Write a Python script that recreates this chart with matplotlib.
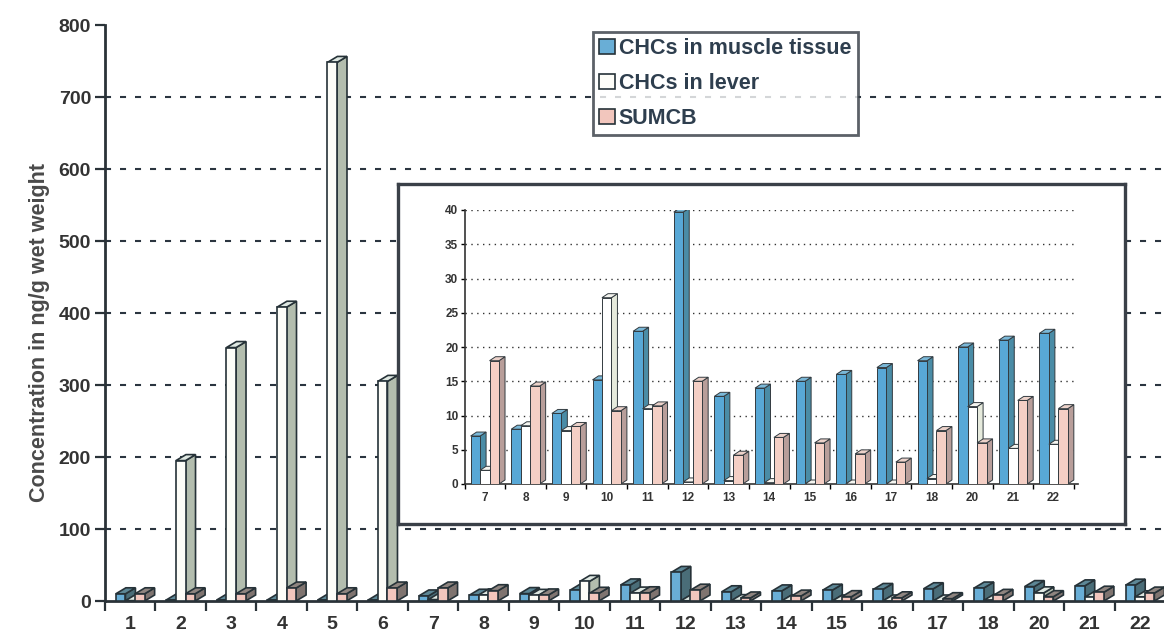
import matplotlib
matplotlib.use("Agg")
import matplotlib.pyplot as plt
from matplotlib.patches import Polygon, Patch
from matplotlib.ticker import FixedLocator
import numpy as np

plt.rcParams["font.family"] = ["Liberation Sans", "DejaVu Sans"]
plt.rcParams["font.weight"] = "bold"

# Sampling stations
categories = ["1", "2", "3", "4", "5", "6", "7", "8", "9", "10", "11", "12",
              "13", "14", "15", "16", "17", "18", "20", "21", "22"]
# Concentrations in ng/g wet weight
muscle = [10, 1.5, 1.5, 1.5, 1.5, 1.5, 7, 8, 10.3, 15.2, 22.3, 39.7,
          12.8, 14, 15, 16, 17, 18, 20, 21, 22]
lever = [0.5, 195, 352, 408, 748, 305, 2, 8.5, 7.8, 27.2, 11, 0.3,
         0.5, 0.2, 0, 0, 0, 0.8, 11.3, 5.2, 5.8]
sumcb = [10, 10, 10, 18, 10, 18, 18, 14.3, 8.4, 10.7, 11.4, 15,
         4.2, 6.8, 6, 4.4, 3.2, 7.8, 6, 12.2, 11]
series_names = ["CHCs in muscle tissue", "CHCs in lever", "SUMCB"]

main_yticks = [0, 100, 200, 300, 400, 500, 600, 700, 800]
inset_yticks = [0, 5, 10, 15, 20, 25, 30, 35, 40]
inset_first = 6  # inset shows stations 7 .. 22

W, H = 1164, 634
fig = plt.figure(figsize=(W / 100, H / 100), dpi=100)
fig.patch.set_facecolor("white")


def fig_rect(left, top, right, bottom):
    return [left / W, 1 - bottom / H, (right - left) / W, (bottom - top) / H]


def depth(ax, dx_px, dy_px):
    x0, x1 = ax.get_xlim()
    y0, y1 = ax.get_ylim()
    bb = ax.bbox
    return dx_px * (x1 - x0) / bb.width, dy_px * (y1 - y0) / bb.height


def bars3d(ax, x, heights, width, d, face, side, top, ec, lw, z):
    ddx, ddy = d
    for xi, h in zip(x, heights):
        xl, xr = xi - width / 2, xi + width / 2
        ax.add_patch(Polygon([(xr, 0), (xr + ddx, ddy), (xr + ddx, h + ddy), (xr, h)],
                             closed=True, facecolor=side, edgecolor=ec, lw=lw, zorder=z))
        ax.add_patch(Polygon([(xl, h), (xl + ddx, h + ddy), (xr + ddx, h + ddy), (xr, h)],
                             closed=True, facecolor=top, edgecolor=ec, lw=lw, zorder=z))
    ax.bar(x, heights, width=width, color=face, edgecolor=ec, linewidth=lw,
           zorder=z + 1)


edge = "#263238"

# ---------------- main chart ----------------
ax = fig.add_axes(fig_rect(105, 25, W, 601))
ax.set_zorder(0)
n = len(categories)
xs = np.arange(n)
ax.set_xlim(-0.5, (W - 130) / 50.5)
ax.set_ylim(0, 800)

main_colors = [
    ("#69aed6", "#4a6d78", "#5d8796"),
    ("#fdfdf8", "#b3bdae", "#dfe8e2"),
    ("#f2c6bd", "#7f7470", "#8f8580"),
]
bw = 0.19
dmain = depth(ax, 10, 6)
for k, vals in enumerate([muscle, lever, sumcb]):
    f, s, t = main_colors[k]
    bars3d(ax, xs + (k - 1) * bw, vals, bw, dmain, f, s, t, edge, 1.2, 3 + 2 * k)

for yv in main_yticks[1:-1]:
    ax.axhline(yv, color="#2b3540", lw=1.5, dashes=(2.9, 4.3), zorder=1)

for sp in ["top", "right"]:
    ax.spines[sp].set_visible(False)
for sp in ["left", "bottom"]:
    ax.spines[sp].set_linewidth(2.0)
    ax.spines[sp].set_color("#2a3238")

ax.set_yticks(main_yticks)
ax.set_yticklabels([str(v) for v in main_yticks])
ax.tick_params(axis="y", length=7, width=1.6, color="#2a3238", pad=3,
               labelsize=14, labelcolor="#333333")
ax.set_xticks(xs)
ax.set_xticklabels(categories)
ax.xaxis.set_minor_locator(FixedLocator(np.arange(-0.5, n, 1.0)))
ax.tick_params(axis="x", which="major", length=0, pad=11, labelsize=14,
               labelcolor="#333333")
ax.tick_params(axis="x", which="minor", length=7, width=1.6, color="#2a3238")
for lab in ax.get_xticklabels() + ax.get_yticklabels():
    lab.set_fontweight("bold")

fig.text(40 / W, 1 - 332 / H, "Concentration in ng/g wet weight", rotation=90,
         ha="center", va="center", fontsize=15.5, fontweight="bold",
         color="#4a4a4a")

handles = [Patch(facecolor=main_colors[k][0], edgecolor=edge, lw=1.2)
           for k in range(3)]
leg = ax.legend(handles, series_names, loc="upper left",
                bbox_to_anchor=(593 / W, 1 - 32 / H),
                bbox_transform=fig.transFigure, frameon=True, fancybox=False,
                handlelength=0.7, handleheight=0.7, handletextpad=0.2,
                labelspacing=0.64, borderpad=0.3, borderaxespad=0,
                prop={"size": 15.5, "weight": "bold"})
leg.get_frame().set_edgecolor("#333a42")
leg.get_frame().set_linewidth(2.0)
for t in leg.get_texts():
    t.set_color("#2e3e4e")

# ---------------- inset frame ----------------
box = fig.add_axes(fig_rect(398, 184, 1125, 524))
box.set_zorder(1)
box.set_facecolor("white")
box.set_xticks([])
box.set_yticks([])
for sp in box.spines.values():
    sp.set_linewidth(2.4)
    sp.set_color("#3a4048")

# ---------------- inset chart ----------------
ins = fig.add_axes(fig_rect(464.5, 210, 1078, 484))
ins.set_zorder(2)
ins.patch.set_alpha(0)
m = n - inset_first
xi = np.arange(m)
ins.set_xlim(-0.5, 14.6)
ins.set_ylim(0, 40)

inset_colors = [
    ("#58a8d6", "#4a8ca6", "#7ab8d8"),
    ("#ffffff", "#e6eadc", "#f5f5f0"),
    ("#f4cfc5", "#b89e9a", "#ecd2ca"),
]
ibw = 0.233
dins = depth(ins, 6, 4)
for k, vals in enumerate([muscle, lever, sumcb]):
    f, s, t = inset_colors[k]
    bars3d(ins, xi + (k - 1) * ibw, vals[inset_first:], ibw, dins, f, s, t,
           "#333b40", 0.7, 3 + 2 * k)

for yv in inset_yticks[1:]:
    ins.axhline(yv, color="#333333", lw=1.0, dashes=(1.0, 3.2), zorder=1)

for sp in ["top", "right"]:
    ins.spines[sp].set_visible(False)
for sp in ["left", "bottom"]:
    ins.spines[sp].set_linewidth(1.2)
    ins.spines[sp].set_color("#333333")

ins.set_yticks(inset_yticks)
ins.set_yticklabels([str(v) for v in inset_yticks])
ins.tick_params(axis="y", length=3, width=1.0, pad=1.5, labelsize=8.5,
                labelcolor="#333333")
ins.set_xticks(xi)
ins.set_xticklabels(categories[inset_first:])
ins.xaxis.set_minor_locator(FixedLocator(np.arange(-0.5, m, 1.0)))
ins.tick_params(axis="x", which="major", length=0, pad=6, labelsize=8.5,
                labelcolor="#333333")
ins.tick_params(axis="x", which="minor", length=3.5, width=1.0)
for lab in ins.get_xticklabels() + ins.get_yticklabels():
    lab.set_fontweight("bold")

fig.savefig("out.png", dpi=100)
